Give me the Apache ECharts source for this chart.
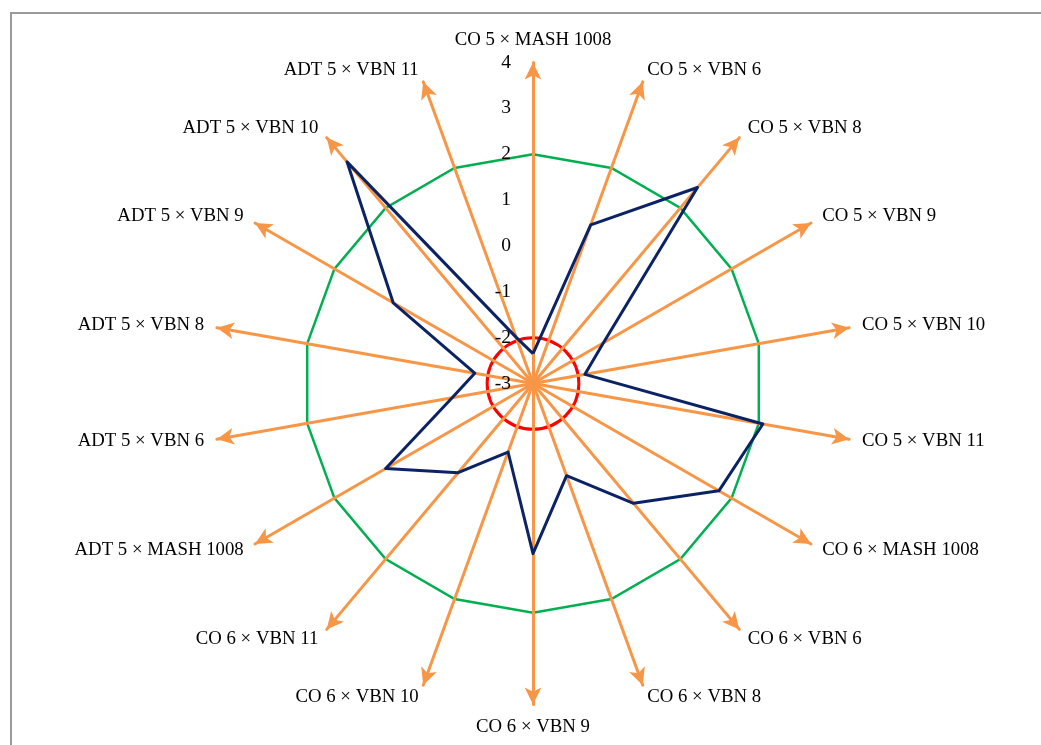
<!DOCTYPE html>
<html>
<head>
<meta charset="utf-8">
<title>Radar of crosses</title>
<script src="https://cdn.jsdelivr.net/npm/echarts@6/dist/echarts.min.js"></script>
<style>
  html, body { margin: 0; padding: 0; background: #ffffff; }
  #chart { width: 1041px; height: 745px; }
</style>
</head>
<body>
<div id="chart"></div>
<script>
// Crosses, listed clockwise starting from the top spoke
const categories = [
  'CO 5 × MASH 1008', 'CO 5 × VBN 6', 'CO 5 × VBN 8', 'CO 5 × VBN 9',
  'CO 5 × VBN 10', 'CO 5 × VBN 11', 'CO 6 × MASH 1008', 'CO 6 × VBN 6',
  'CO 6 × VBN 8', 'CO 6 × VBN 9', 'CO 6 × VBN 10', 'CO 6 × VBN 11',
  'ADT 5 × MASH 1008', 'ADT 5 × VBN 6', 'ADT 5 × VBN 8', 'ADT 5 × VBN 9',
  'ADT 5 × VBN 10', 'ADT 5 × VBN 11'
];

// Effect estimate for each cross (same order as categories)
const effects = [
  -2.35, 0.68, 2.58, -1.23, -1.85, 2.09, 1.68, 0.41, -0.86,
  0.71, -1.41, -0.46, 0.71, -1.21, -1.71, 0.52, 3.31, -1.93
];

// Scale of every spoke and its tick labels
const axisMin = -3;
const axisMax = 4;
const tickLabels = ['-3', '-2', '-1', '0', '1', '2', '3', '4'];

// Reference rings: green polygon and red circle
const upperRing = 2;
const lowerRing = -2;

const FONT = '"Liberation Serif", "Times New Roman", serif';
const ORANGE = '#F79646';

// ECharts lays radar indicators out counter-clockwise, so walk the list backwards
const order = [0].concat(categories.slice(1).map((_, i) => categories.length - 1 - i));

function ringColors(level, color) {
  return tickLabels.map(t => (Number(t) === level ? color : 'transparent'));
}

const indicators = order.map((idx, k) => {
  const ind = { name: categories[idx], min: axisMin, max: axisMax };
  if (k === 0) {
    ind.axisLabel = { show: true };
  }
  return ind;
});
const plainIndicators = order.map(() => ({ name: '', min: axisMin, max: axisMax }));

const chart = echarts.init(document.getElementById('chart'), null, { renderer: 'canvas' });

chart.setOption({
  animation: false,
  backgroundColor: '#ffffff',
  graphic: [{
    type: 'rect',
    shape: { x: 11, y: 13, width: 1100, height: 800 },
    style: { fill: 'none', stroke: '#9a9a9a', lineWidth: 2 },
    silent: true,
    z: -10
  }],
  radar: [
    {
      center: [533, 383.5],
      radius: 321,
      startAngle: 90,
      shape: 'polygon',
      splitNumber: axisMax - axisMin,
      indicator: indicators,
      axisName: {
        color: '#000000',
        fontFamily: FONT,
        fontSize: 18.8
      },
      nameGap: 13,
      axisLine: {
        show: true,
        symbol: ['none', 'arrow'],
        symbolSize: [12.5, 17],
        symbolOffset: [0, 0],
        lineStyle: { color: ORANGE, width: 3 }
      },
      axisTick: { show: false },
      axisLabel: {
        show: false,
        color: '#000000',
        fontFamily: FONT,
        fontSize: 19.5,
        margin: 22,
        formatter: v => tickLabels[Math.round(v - axisMin)]
      },
      splitArea: { show: false },
      splitLine: {
        show: true,
        lineStyle: { color: ringColors(upperRing, '#00B050'), width: 2.5 }
      }
    },
    {
      center: [533, 383.5],
      radius: 321,
      startAngle: 90,
      shape: 'circle',
      splitNumber: axisMax - axisMin,
      indicator: plainIndicators,
      axisName: { show: false },
      axisLine: { show: false },
      axisTick: { show: false },
      axisLabel: { show: false },
      splitArea: { show: false },
      splitLine: {
        show: true,
        lineStyle: { color: ringColors(lowerRing, '#FF0000'), width: 3 }
      }
    }
  ],
  series: [{
    type: 'radar',
    radarIndex: 0,
    symbol: 'none',
    lineStyle: { color: '#0B2364', width: 3 },
    data: [{ value: order.map(idx => effects[idx]), name: 'Effect' }]
  }]
});
</script>
</body>
</html>
